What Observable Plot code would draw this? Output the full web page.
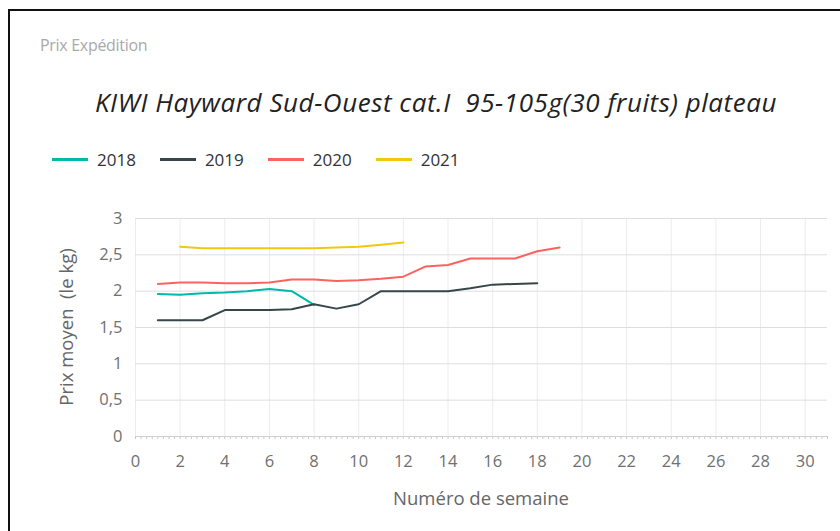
<!DOCTYPE html>
<html><head><meta charset="utf-8">
<script src="https://cdn.jsdelivr.net/npm/d3@7"></script>
<script src="https://cdn.jsdelivr.net/npm/@observablehq/plot@0.6"></script>
<style>
html,body{margin:0;padding:0;background:#fff;}
body{width:840px;height:531px;position:relative;overflow:hidden;font-family:"Open Sans",sans-serif;}
#frame{position:absolute;left:8px;top:9px;width:900px;height:600px;border-left:2px solid #111;border-top:2px solid #111;}
#sup{position:absolute;left:40px;top:34px;font-size:16px;color:#a9a9a9;letter-spacing:-0.3px;}
#title{position:absolute;left:95px;top:84px;font-size:26px;font-style:italic;color:#222;letter-spacing:0.55px;white-space:nowrap;}
#legend{position:absolute;left:52px;top:148px;font-size:17px;color:#333;display:flex;}
#legend .it{display:flex;align-items:center;margin-right:24px;}
#legend .sw{width:36px;height:3px;margin-right:9px;}
#chart{position:absolute;left:0;top:190px;}
#ylab{position:absolute;left:65px;top:327px;transform:translate(-50%,-50%) rotate(-90deg);font-size:18.5px;color:#666;white-space:nowrap;}
#xlab{position:absolute;left:481px;top:497px;transform:translate(-50%,-50%);font-size:18.5px;color:#666;white-space:nowrap;}
</style></head>
<body>
<div id="frame"></div>
<div id="sup">Prix Expédition</div>
<div id="title">KIWI Hayward Sud-Ouest cat.I&nbsp; 95-105g(30 fruits) plateau</div>
<div id="legend"></div>
<div id="chart"></div>
<div id="ylab">Prix moyen&nbsp; (le kg)</div>
<div id="xlab">Numéro de semaine</div>
<script>
const years = ["2018","2019","2020","2021"];
const colors = ["#01B8AA","#374649","#FD625E","#F2C80F"];
const weeks2018 = [1,2,3,4,5,6,7,8];
const prix2018 = [1.96,1.95,1.97,1.98,2.00,2.03,2.00,1.81];
const weeks2019 = [1,2,3,4,5,6,7,8,9,10,11,12,13,14,15,16,17,18];
const prix2019 = [1.60,1.60,1.60,1.74,1.74,1.74,1.75,1.82,1.76,1.82,2.00,2.00,2.00,2.00,2.04,2.09,2.10,2.11];
const weeks2020 = [1,2,3,4,5,6,7,8,9,10,11,12,13,14,15,16,17,18,19];
const prix2020 = [2.10,2.12,2.12,2.11,2.11,2.12,2.16,2.16,2.14,2.15,2.17,2.20,2.34,2.36,2.45,2.45,2.45,2.55,2.60];
const weeks2021 = [2,3,4,5,6,7,8,9,10,11,12];
const prix2021 = [2.61,2.59,2.59,2.59,2.59,2.59,2.59,2.60,2.61,2.64,2.67];
const xTicks = [0,2,4,6,8,10,12,14,16,18,20,22,24,26,28,30];
const yTicks = [0,0.5,1,1.5,2,2.5,3];

const series = [[weeks2018,prix2018],[weeks2019,prix2019],[weeks2020,prix2020],[weeks2021,prix2021]];
const data = series.flatMap(([w,p],k) => w.map((x,i) => ({annee: years[k], semaine: x, prix: p[i]})));
const minor = d3.range(0, 31.001, 0.25);

const leg = document.getElementById("legend");
years.forEach((y,i) => {
  const it = document.createElement("div"); it.className = "it";
  it.innerHTML = `<span class="sw" style="background:${colors[i]}"></span><span>${y}</span>`;
  leg.appendChild(it);
});

const chart = Plot.plot({
  width: 840, height: 341,
  marginLeft: 135, marginRight: 13, marginTop: 28, marginBottom: 95,
  style: {fontFamily: "'Open Sans', sans-serif", fontSize: "16.5px", color: "#707070", background: "transparent"},
  x: {domain: [0, 31], ticks: minor, tickSize: 3, tickPadding: 16, label: null,
      tickFormat: d => (d % 2 === 0 ? String(d) : "")},
  y: {domain: [0, 3], ticks: yTicks, tickSize: 0, tickPadding: 13, label: null,
      tickFormat: d => String(d).replace(".", ",")},
  color: {domain: years, range: colors},
  marks: [
    Plot.ruleX(xTicks, {x: d => d, stroke: "#ececec", strokeWidth: 1}),
    Plot.ruleY(yTicks.filter(d => d > 0), {y: d => d, stroke: "#dedede", strokeWidth: 1}),
    Plot.ruleY([0], {stroke: "#d0d0d0", strokeWidth: 1}),
    Plot.line(data, {x: "semaine", y: "prix", stroke: "annee", z: "annee", strokeWidth: 2, curve: "linear"})
  ]
});
chart.querySelectorAll('[aria-label="x-axis tick"] path, [aria-label="x-axis"] path').forEach(p => p.setAttribute("stroke", "#c8c8c8"));
document.getElementById("chart").appendChild(chart);
</script>
</body></html>
